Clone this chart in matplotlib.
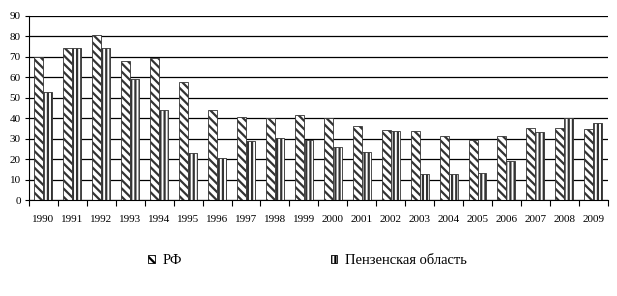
import numpy as np
import matplotlib.pyplot as plt
from matplotlib.patches import Patch

plt.rcParams['font.family'] = ['Liberation Serif', 'DejaVu Serif']
plt.rcParams['hatch.linewidth'] = 1.6

years = [str(y) for y in range(1990, 2010)]
rf = [70.1, 74.5, 80.7, 67.8, 69.5, 57.7, 44.0, 40.4, 40.0, 41.4,
      40.0, 36.0, 34.2, 33.8, 31.3, 29.4, 31.3, 35.2, 35.2, 34.7]
penza = [52.7, 74.2, 74.2, 59.4, 44.0, 22.8, 20.4, 28.7, 30.3, 29.4,
         25.9, 23.3, 33.8, 12.7, 12.7, 13.2, 18.9, 33.3, 40.1, 37.7]

fig = plt.figure(figsize=(6.17, 2.96), dpi=100)
ax = fig.add_axes([0.047, 0.324, 0.938, 0.622])

x = np.arange(len(years))
w = 0.31
ax.bar(x - w / 2, rf, w, color='white', edgecolor='#333333', hatch='\\\\\\\\', linewidth=0.6)
ax.bar(x + w / 2, penza, w, color='white', edgecolor='#333333', hatch='||||', linewidth=0.6)

ax.set_ylim(0, 90)
ax.set_yticks(range(0, 91, 10))
ax.set_xlim(-0.5, len(years) - 0.5)
ax.set_xticks(x)
ax.set_xticklabels(years, fontsize=8)
ax.set_xticks(np.arange(-0.5, len(years), 1), minor=True)
ax.tick_params(axis='x', which='major', length=0, pad=11)
ax.tick_params(axis='x', which='minor', length=4, width=0.8, direction='out')
ax.tick_params(axis='y', labelsize=8, length=3, width=0.8, pad=3)
ax.yaxis.grid(True, color='black', linewidth=0.9)
ax.set_axisbelow(True)
for s in ['top', 'right']:
    ax.spines[s].set_visible(False)
ax.spines['left'].set_linewidth(0.8)
ax.spines['bottom'].set_linewidth(0.8)

handles = [Patch(facecolor='white', edgecolor='black', hatch='\\\\\\\\', linewidth=0.6),
           Patch(facecolor='white', edgecolor='black', hatch='||||', linewidth=0.6)]
fig.legend(handles, ['РФ', 'Пензенская область'], loc='center left', ncol=2,
           bbox_to_anchor=(148 / 617, 1 - 261 / 296), frameon=False, fontsize=10.5,
           borderaxespad=0, borderpad=0,
           handlelength=0.45, handleheight=0.45, handletextpad=0.55, columnspacing=10.2)

fig.savefig('out.png', dpi=100)
